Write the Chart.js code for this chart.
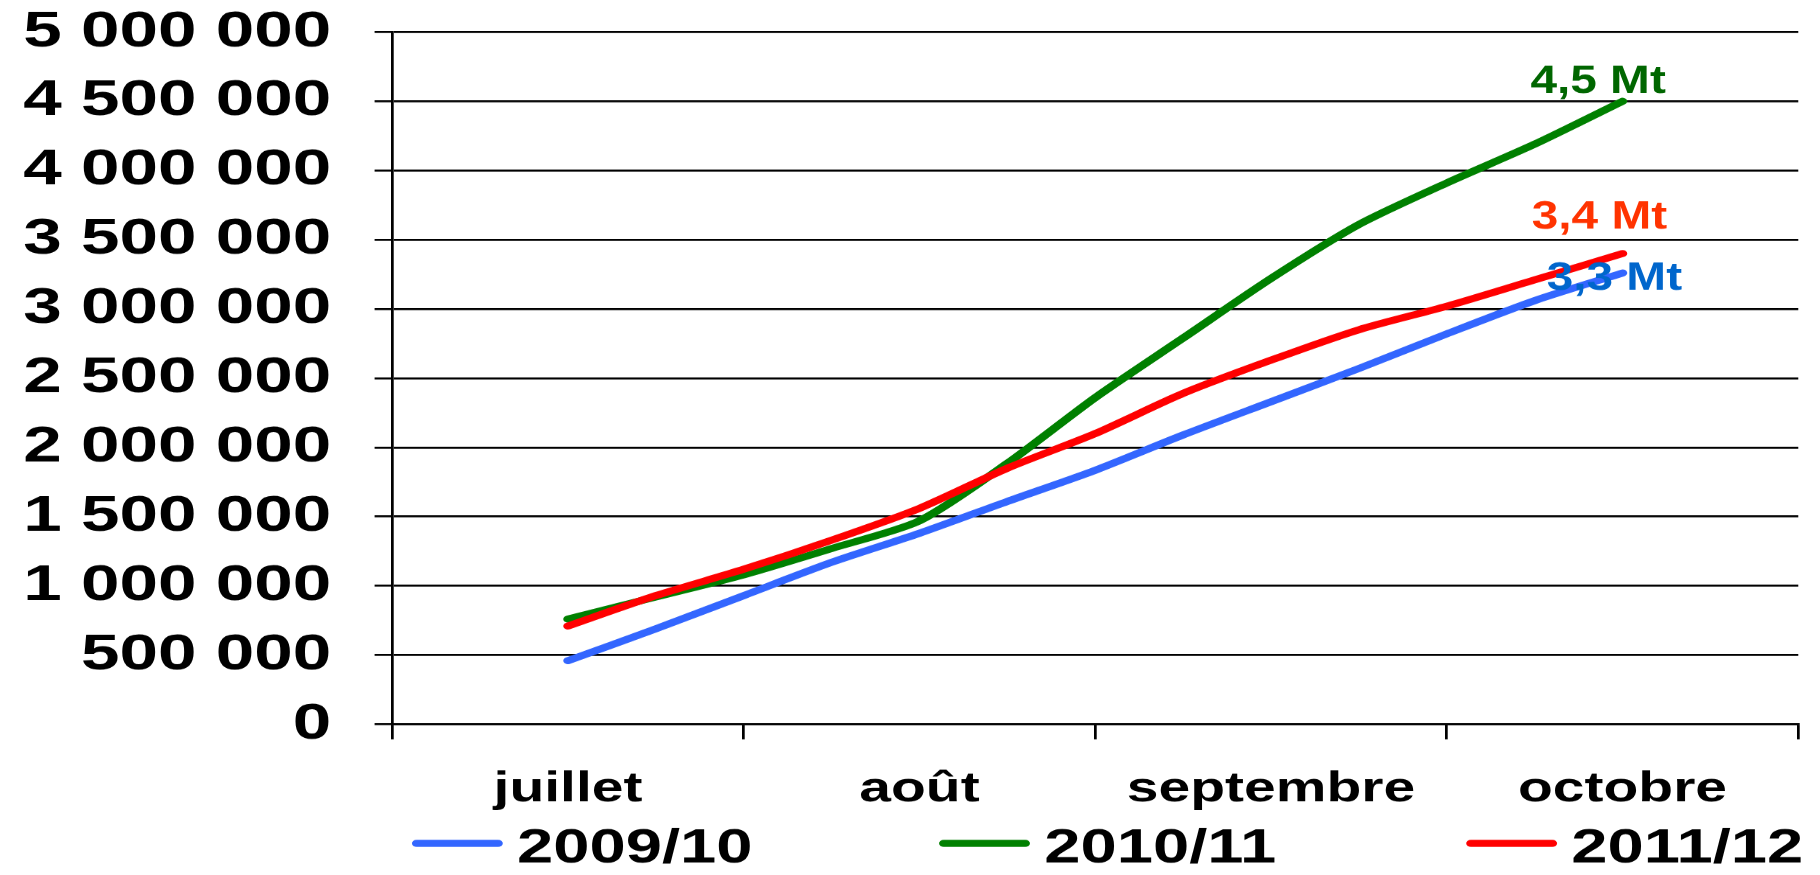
<!DOCTYPE html>
<html>
<head>
<meta charset="utf-8">
<script src="https://cdn.jsdelivr.net/npm/chart.js@4.4.1/dist/chart.umd.min.js"></script>
<style>
  html, body { margin: 0; padding: 0; background: #fff; overflow: hidden; }
</style>
</head>
<body>
<!-- the original chart is stretched sideways, so the canvas is drawn narrow and widened by its inline style -->
<canvas id="myChart" width="1341" height="875" style="width:1820px;height:875px;display:block"></canvas>
<script>
const months = ['juillet', 'août', 'septembre', 'octobre'];
const xTicks = [0, 0.5, 1, 1.5, 2, 2.5, 3, 3.5, 4];
const weekPos = [0.5, 0.75, 1, 1.25, 1.5, 1.75, 2, 2.25, 2.5, 2.75, 3, 3.25, 3.5];

const seriesNames = ['2009/10', '2010/11', '2011/12'];
const s2009 = [460000, 690000, 930000, 1170000, 1380000, 1610000, 1835000, 2090000, 2330000, 2570000, 2820000, 3060000, 3260000];
const s2010 = [760000, 920000, 1080000, 1270000, 1470000, 1885000, 2360000, 2790000, 3220000, 3610000, 3910000, 4190000, 4500000];
const s2011 = [710000, 930000, 1120000, 1330000, 1560000, 1850000, 2100000, 2390000, 2630000, 2850000, 3020000, 3210000, 3400000];
const endLabels = ['3,3 Mt', '4,5 Mt', '3,4 Mt'];

const lineColors = ['#3366ff', '#008000', '#ff0000'];
const labelColors = ['#0066cc', '#006600', '#ff3300'];
const labelShift = [[-6, 17], [-18, -8], [-17, -25]];

const FONT = '"Liberation Sans", Arial, sans-serif';

function pts(values) {
  return values.map((v, i) => ({ x: weekPos[i], y: v }));
}

function spaced(v) {
  return String(v).replace(/\B(?=(\d{3})+(?!\d))/g, ' ');
}

// end labels and the legend row under the axis
const extras = {
  id: 'extras',
  afterDatasetsDraw(chart) {
    const ctx = chart.ctx;
    ctx.save();
    ctx.font = 'bold 40px ' + FONT;
    ctx.textAlign = 'center';
    ctx.textBaseline = 'alphabetic';
    chart.data.datasets.forEach((ds, i) => {
      const pts = chart.getDatasetMeta(i).data;
      const p = pts[pts.length - 1];
      ctx.save();
      ctx.translate(p.x + labelShift[i][0], p.y + labelShift[i][1]);
      ctx.scale(0.88, 1); // these labels are narrower in the original
      ctx.fillStyle = labelColors[i];
      ctx.fillText(endLabels[i], 0, 0);
      ctx.restore();
    });

    const left = chart.chartArea.left;
    ctx.font = 'bold 48px ' + FONT;
    ctx.textAlign = 'left';
    chart.data.datasets.forEach((ds, i) => {
      const x = left + 15 + i * 388.4;
      ctx.strokeStyle = ds.borderColor;
      ctx.lineWidth = 7;
      ctx.lineCap = 'round';
      ctx.beginPath();
      ctx.moveTo(x + 3, 843);
      ctx.lineTo(x + 63, 843);
      ctx.stroke();
      ctx.fillStyle = '#000';
      ctx.fillText(ds.label, x + 77, 862);
    });
    ctx.restore();
  }
};

new Chart(document.getElementById('myChart'), {
  type: 'line',
  data: {
    datasets: [
      { label: seriesNames[0], data: pts(s2009), borderColor: lineColors[0], order: 2 },
      { label: seriesNames[1], data: pts(s2010), borderColor: lineColors[1], order: 1 },
      { label: seriesNames[2], data: pts(s2011), borderColor: lineColors[2], order: 0 }
    ]
  },
  options: {
    responsive: false,
    animation: false,
    devicePixelRatio: 1820 / 1341,
    layout: { padding: { top: 32, right: 16, left: 0, bottom: 0 } },
    elements: {
      line: { borderWidth: 7, tension: 0.25, borderCapStyle: 'round', borderJoinStyle: 'round', fill: false },
      point: { radius: 0, hoverRadius: 0 }
    },
    plugins: {
      legend: { display: false },
      tooltip: { enabled: false }
    },
    scales: {
      x: {
        type: 'linear',
        min: 0,
        max: 4,
        afterBuildTicks: (axis) => { axis.ticks = xTicks.map(v => ({ value: v })); },
        afterFit: (axis) => { axis.height = 151; axis.paddingLeft = 0; axis.paddingRight = 0; },
        grid: {
          drawOnChartArea: false,
          drawTicks: true,
          tickLength: 15,
          lineWidth: 2,
          color: (c) => Number.isInteger(c.tick && c.tick.value) ? '#000' : 'rgba(0,0,0,0)'
        },
        border: { display: true, color: '#000', width: 2 },
        ticks: {
          autoSkip: false,
          maxRotation: 0,
          padding: 25,
          color: '#000',
          font: { family: FONT, size: 42, weight: 'bold' },
          callback: (v) => Number.isInteger(v) ? '' : months[Math.floor(v)]
        }
      },
      y: {
        min: 0,
        max: 5000000,
        afterFit: (axis) => { axis.width = 289; axis.paddingTop = 0; axis.paddingBottom = 0; },
        grid: { color: '#000', lineWidth: 2, tickLength: 13, drawTicks: true },
        border: { display: true, color: '#000', width: 2 },
        ticks: {
          stepSize: 500000,
          padding: 32,
          color: '#000',
          font: { family: FONT, size: 51, weight: 'bold' },
          callback: (v) => spaced(v)
        }
      }
    }
  },
  plugins: [extras]
});
</script>
</body>
</html>
